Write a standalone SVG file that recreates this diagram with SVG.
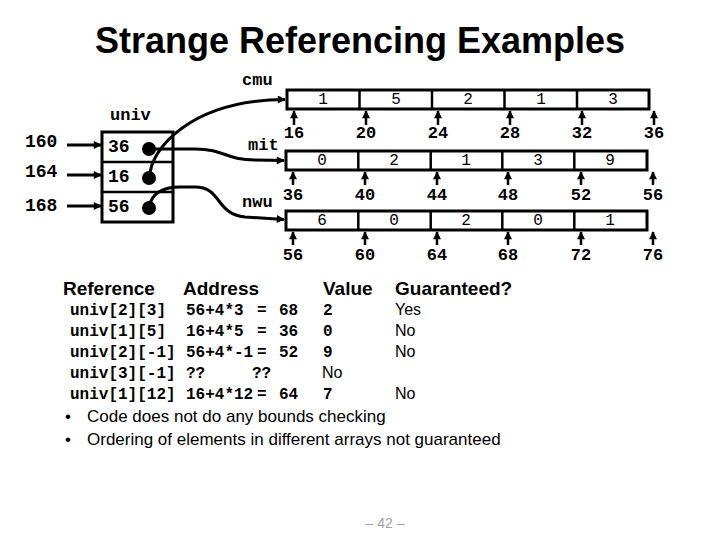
<svg xmlns="http://www.w3.org/2000/svg" width="720" height="540" viewBox="0 0 720 540">
<style>
.mb{font-family:"Liberation Mono","Courier New",monospace;font-weight:bold;fill:#000}
.lbl{font-size:17px}
.addr{font-size:17px;text-anchor:middle}
.val{font-family:"Liberation Mono","Courier New",monospace;font-size:16px;text-anchor:middle;fill:#000}
.arr{fill:#fff;stroke:#000;stroke-width:3}
.div{stroke:#000;stroke-width:2.5}
.tick{stroke:#000;stroke-width:2.5;marker-end:url(#ah)}
.conn{fill:none;stroke:#000;stroke-width:3}
.sans{font-family:"Liberation Sans",Arial,sans-serif;fill:#000}
.hdr{font-size:19px;font-weight:bold}
.row{font-family:"Liberation Mono","Courier New",monospace;font-weight:bold;font-size:16px;fill:#000}
.yn{font-size:16px}
.bul{font-size:17px}
</style>
<defs>
<marker id="ah" viewBox="0 0 10 10" refX="9" refY="5" markerWidth="9" markerHeight="8" markerUnits="userSpaceOnUse" orient="auto"><path d="M0,0 L10,5 L0,10 z" fill="#000"/></marker>
</defs>
<rect width="720" height="540" fill="#fff"/>

<g id="title"><text x="360" y="53" class="sans" font-size="36" font-weight="bold" text-anchor="middle">Strange Referencing Examples</text></g>

<g id="univ">
<text x="110" y="120" class="mb lbl">univ</text>
<rect x="102" y="132" width="71" height="90" class="arr"/>
<line x1="102" y1="162" x2="173" y2="162" class="div"/>
<line x1="102" y1="192" x2="173" y2="192" class="div"/>
<text x="108" y="152" class="mb" font-size="18">36</text>
<text x="108" y="182" class="mb" font-size="18">16</text>
<text x="108" y="212" class="mb" font-size="18">56</text>
<circle cx="149" cy="149" r="7" fill="#000"/>
<circle cx="149" cy="178" r="7" fill="#000"/>
<circle cx="149" cy="208" r="7" fill="#000"/>
</g>

<g id="addr-labels">
<text x="25" y="147" class="mb" font-size="18">160</text>
<text x="25" y="177" class="mb" font-size="18">164</text>
<text x="25" y="211" class="mb" font-size="18">168</text>
</g>

<g id="cmu">
<text x="242" y="85" class="mb lbl">cmu</text>
<rect x="287" y="90" width="362" height="19" class="arr"/>
<line x1="359.5" y1="90" x2="359.5" y2="109" class="div"/>
<line x1="432" y1="90" x2="432" y2="109" class="div"/>
<line x1="504.5" y1="90" x2="504.5" y2="109" class="div"/>
<line x1="577" y1="90" x2="577" y2="109" class="div"/>
<text x="323" y="104" class="val">1</text>
<text x="396" y="104" class="val">5</text>
<text x="468" y="104" class="val">2</text>
<text x="541" y="104" class="val">1</text>
<text x="613" y="104" class="val">3</text>
<line x1="294" y1="125" x2="294" y2="111" class="tick"/>
<line x1="366" y1="125" x2="366" y2="111" class="tick"/>
<line x1="438" y1="125" x2="438" y2="111" class="tick"/>
<line x1="510" y1="125" x2="510" y2="111" class="tick"/>
<line x1="582" y1="125" x2="582" y2="111" class="tick"/>
<line x1="654" y1="125" x2="654" y2="111" class="tick"/>
<text x="294" y="138" class="mb addr">16</text>
<text x="366" y="138" class="mb addr">20</text>
<text x="438" y="138" class="mb addr">24</text>
<text x="510" y="138" class="mb addr">28</text>
<text x="582" y="138" class="mb addr">32</text>
<text x="654" y="138" class="mb addr">36</text>
</g>

<g id="mit">
<text x="248" y="150" class="mb lbl">mit</text>
<rect x="286" y="151" width="361" height="19" class="arr"/>
<line x1="358.3" y1="151" x2="358.3" y2="170" class="div"/>
<line x1="430.7" y1="151" x2="430.7" y2="170" class="div"/>
<line x1="502.3" y1="151" x2="502.3" y2="170" class="div"/>
<line x1="574.3" y1="151" x2="574.3" y2="170" class="div"/>
<text x="322" y="165" class="val">0</text>
<text x="394" y="165" class="val">2</text>
<text x="466" y="165" class="val">1</text>
<text x="538" y="165" class="val">3</text>
<text x="610" y="165" class="val">9</text>
<line x1="293" y1="185" x2="293" y2="172" class="tick"/>
<line x1="365" y1="185" x2="365" y2="172" class="tick"/>
<line x1="437" y1="185" x2="437" y2="172" class="tick"/>
<line x1="508" y1="185" x2="508" y2="172" class="tick"/>
<line x1="581" y1="185" x2="581" y2="172" class="tick"/>
<line x1="653" y1="185" x2="653" y2="172" class="tick"/>
<text x="293" y="200" class="mb addr">36</text>
<text x="365" y="200" class="mb addr">40</text>
<text x="437" y="200" class="mb addr">44</text>
<text x="508" y="200" class="mb addr">48</text>
<text x="581" y="200" class="mb addr">52</text>
<text x="653" y="200" class="mb addr">56</text>
</g>

<g id="nwu">
<text x="242" y="207" class="mb lbl">nwu</text>
<rect x="286" y="211" width="361" height="19" class="arr"/>
<line x1="358.3" y1="211" x2="358.3" y2="230" class="div"/>
<line x1="430.7" y1="211" x2="430.7" y2="230" class="div"/>
<line x1="502.3" y1="211" x2="502.3" y2="230" class="div"/>
<line x1="574.3" y1="211" x2="574.3" y2="230" class="div"/>
<text x="322" y="225" class="val">6</text>
<text x="394" y="225" class="val">0</text>
<text x="466" y="225" class="val">2</text>
<text x="538" y="225" class="val">0</text>
<text x="610" y="225" class="val">1</text>
<line x1="293" y1="245" x2="293" y2="232" class="tick"/>
<line x1="365" y1="245" x2="365" y2="232" class="tick"/>
<line x1="437" y1="245" x2="437" y2="232" class="tick"/>
<line x1="508" y1="245" x2="508" y2="232" class="tick"/>
<line x1="581" y1="245" x2="581" y2="232" class="tick"/>
<line x1="653" y1="245" x2="653" y2="232" class="tick"/>
<text x="293" y="260" class="mb addr">56</text>
<text x="365" y="260" class="mb addr">60</text>
<text x="437" y="260" class="mb addr">64</text>
<text x="508" y="260" class="mb addr">68</text>
<text x="581" y="260" class="mb addr">72</text>
<text x="653" y="260" class="mb addr">76</text>
</g>

<g id="connectors">
<line x1="67" y1="145" x2="101" y2="145" class="conn" marker-end="url(#ah)"/>
<line x1="67" y1="175" x2="101" y2="175" class="conn" marker-end="url(#ah)"/>
<line x1="67" y1="206" x2="101" y2="206" class="conn" marker-end="url(#ah)"/>
<path d="M150,176 C150,150 190,100 285,99.5" class="conn" marker-end="url(#ah)"/>
<path d="M150,149 L195,149 C225,149 225,160 255,160 L284,160.5" class="conn" marker-end="url(#ah)"/>
<path d="M149,207 C152,192 165,187 180,187 L195,187 C222,187 215,214 245,217 L284,219.5" class="conn" marker-end="url(#ah)"/>
</g>

<g id="table">
<text x="63" y="295" class="sans hdr">Reference</text>
<text x="183" y="295" class="sans hdr">Address</text>
<text x="323" y="295" class="sans hdr">Value</text>
<text x="395" y="295" class="sans hdr">Guaranteed?</text>

<text x="70" y="315" class="row">univ[2][3]</text>
<text x="186" y="315" class="row">56+4*3</text>
<text x="257" y="315" class="row">=</text>
<text x="279" y="315" class="row">68</text>
<text x="323" y="315" class="row">2</text>
<text x="395" y="315" class="sans yn">Yes</text>

<text x="70" y="336" class="row">univ[1][5]</text>
<text x="186" y="336" class="row">16+4*5</text>
<text x="257" y="336" class="row">=</text>
<text x="279" y="336" class="row">36</text>
<text x="323" y="336" class="row">0</text>
<text x="395" y="336" class="sans yn">No</text>

<text x="70" y="357" class="row">univ[2][-1]</text>
<text x="186" y="357" class="row">56+4*-1</text>
<text x="257" y="357" class="row">=</text>
<text x="279" y="357" class="row">52</text>
<text x="323" y="357" class="row">9</text>
<text x="395" y="357" class="sans yn">No</text>

<text x="70" y="378" class="row">univ[3][-1]</text>
<text x="186" y="378" class="row">??</text>
<text x="252" y="378" class="row">??</text>
<text x="322" y="378" class="sans yn">No</text>

<text x="70" y="399" class="row">univ[1][12]</text>
<text x="186" y="399" class="row">16+4*12</text>
<text x="257" y="399" class="row">=</text>
<text x="279" y="399" class="row">64</text>
<text x="323" y="399" class="row">7</text>
<text x="395" y="399" class="sans yn">No</text>

<text x="65" y="422" class="sans bul">•</text>
<text x="87" y="422" class="sans bul">Code does not do any bounds checking</text>
<text x="65" y="445" class="sans bul">•</text>
<text x="87" y="445" class="sans bul">Ordering of elements in different arrays not guaranteed</text>
</g>

<g id="page"><text x="385" y="528" font-family="'Liberation Sans',Arial,sans-serif" font-size="14" fill="#a0a0a0" text-anchor="middle">– 42 –</text></g>
</svg>
